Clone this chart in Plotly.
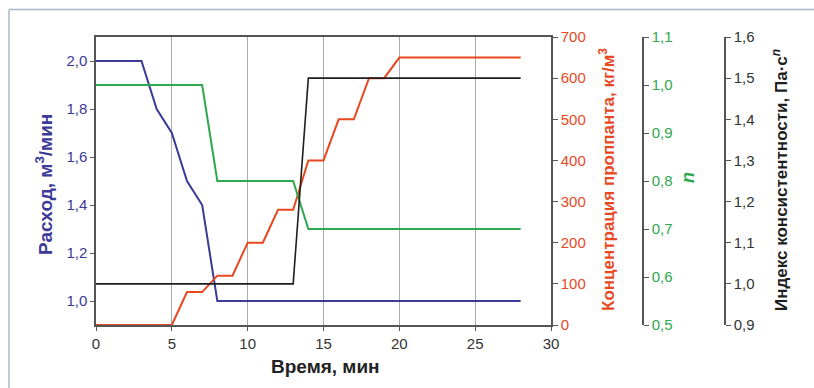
import plotly.graph_objects as go

# --- data ---
time_rate = [0, 3, 4, 5, 6, 7, 8, 28]
rate = [2.0, 2.0, 1.8, 1.7, 1.5, 1.4, 1.0, 1.0]

time_conc = [0, 5, 6, 7, 8, 9, 10, 11, 12, 13, 14, 15, 16, 17, 18, 19, 20, 28]
conc = [0, 0, 80, 80, 120, 120, 200, 200, 280, 280, 400, 400, 500, 500, 600, 600, 650, 650]

time_n = [0, 7, 8, 13, 14, 28]
n_vals = [1.0, 1.0, 0.8, 0.8, 0.7, 0.7]

time_k = [0, 13, 14, 28]
k_vals = [1.0, 1.0, 1.5, 1.5]

x_ticks = [0, 5, 10, 15, 20, 25, 30]

BLUE = "#3b3a96"
RED = "#e8481f"
GREEN = "#2ea84f"
BLACK = "#1e1e1e"
AX = "#555555"
GRID = "#ababab"
FONT = "Liberation Sans Narrow, Arial Narrow, Liberation Sans, Arial"
TFONT = "Liberation Sans, Arial"

W, H = 814, 388
x0, x1 = 96 / W, 551 / W
y0, y1 = 1 - 325 / H, 1 - 37 / H

fig = go.Figure()
fig.add_trace(go.Scatter(x=time_rate, y=rate, mode="lines", line=dict(color=BLUE, width=2), yaxis="y"))
fig.add_trace(go.Scatter(x=time_conc, y=conc, mode="lines", line=dict(color=RED, width=2), yaxis="y2"))
fig.add_trace(go.Scatter(x=time_n, y=n_vals, mode="lines", line=dict(color=GREEN, width=2), yaxis="y3"))
fig.add_trace(go.Scatter(x=time_k, y=k_vals, mode="lines", line=dict(color=BLACK, width=1.6), yaxis="y4"))

fig.update_layout(
    width=W, height=H,
    margin=dict(l=0, r=0, t=0, b=0, autoexpand=False),
    paper_bgcolor="white", plot_bgcolor="white",
    showlegend=False,
    separators=", ",
    xaxis=dict(
        domain=[x0, x1], range=[0, 30], tickvals=x_ticks,
        showgrid=True, gridcolor=GRID, gridwidth=1.4,
        showline=True, linecolor=AX, linewidth=1.5, mirror=True,
        ticks="outside", ticklen=4, tickcolor=AX,
        tickfont=dict(family=FONT, size=15, color="#333333"),
        zeroline=False, fixedrange=True, automargin=False,
    ),
    yaxis=dict(
        domain=[y0, y1], range=[0.9, 2.1], tickvals=[1.0, 1.2, 1.4, 1.6, 1.8, 2.0],
        tickformat=".1f", showgrid=False, zeroline=False,
        showline=True, linecolor=AX, linewidth=1.5,
        ticks="outside", ticklen=4, tickcolor=AX,
        tickfont=dict(family=FONT, size=15, color=BLUE), automargin=False,
    ),
    # hidden helper axis for horizontal grid lines
    yaxis5=dict(
        overlaying="y", range=[0.9, 2.1], tick0=1.0, dtick=0.25,
        showgrid=True, gridcolor=GRID, gridwidth=1.4,
        showticklabels=False, ticks="", zeroline=False, showline=False, automargin=False,
    ),
    yaxis2=dict(
        overlaying="y", side="right", anchor="x", range=[0, 700], dtick=100,
        showgrid=False, zeroline=False,
        showline=True, linecolor=AX, linewidth=1.5,
        ticks="outside", ticklen=5, tickcolor=AX,
        tickfont=dict(family=FONT, size=15, color=RED), automargin=False,
    ),
    yaxis3=dict(
        overlaying="y", side="right", anchor="free", position=643 / W,
        range=[0.5, 1.1], dtick=0.1, tickformat=".1f",
        showgrid=False, zeroline=False,
        showline=True, linecolor=AX, linewidth=1.5,
        ticks="outside", ticklen=5, tickcolor=AX,
        tickfont=dict(family=FONT, size=15, color=GREEN), automargin=False,
    ),
    yaxis4=dict(
        overlaying="y", side="right", anchor="free", position=725 / W,
        range=[0.9, 1.6], dtick=0.1, tickformat=".1f",
        showgrid=False, zeroline=False,
        showline=True, linecolor=AX, linewidth=1.5,
        ticks="outside", ticklen=5, tickcolor=AX,
        tickfont=dict(family=FONT, size=15, color="#333333"), automargin=False,
    ),
)

ann = dict(xref="paper", yref="paper", showarrow=False, textangle=-90,
           xanchor="center", yanchor="middle")
fig.add_annotation(x=44 / W, y=1 - 185 / H, text="<b>Расход, м<sup>3</sup>/мин</b>",
                   font=dict(family=TFONT, size=19, color=BLUE), **ann)
fig.add_annotation(x=607 / W, y=1 - 180 / H, text="<b>Концентрация проппанта, кг/м<sup>3</sup></b>",
                   font=dict(family=TFONT, size=17, color=RED), **ann)
fig.add_annotation(x=688 / W, y=1 - 178 / H, text="<b><i>n</i></b>",
                   font=dict(family=TFONT, size=18, color=GREEN), **ann)
fig.add_annotation(x=780 / W, y=1 - 180 / H, text="<b>Индекс консистентности, Па·с<sup><i>n</i></sup></b>",
                   font=dict(family=TFONT, size=17, color=BLACK), **ann)
fig.add_annotation(x=325 / W, y=1 - 366 / H, text="<b>Время, мин</b>",
                   font=dict(family=TFONT, size=19, color="#222222"),
                   xref="paper", yref="paper", showarrow=False, xanchor="center", yanchor="middle")

# light frame (top and left edges)
fig.add_shape(type="line", xref="paper", yref="paper", x0=9 / W, x1=1, y0=1 - 9.5 / H, y1=1 - 9.5 / H,
              line=dict(color="#a9b9cc", width=1.5))
fig.add_shape(type="line", xref="paper", yref="paper", x0=9 / W, x1=9 / W, y0=0, y1=1 - 9.5 / H,
              line=dict(color="#a9b9cc", width=1.5))

fig.write_html("out.html", config={"displayModeBar": False},
               post_script="document.body.style.margin='0';document.body.style.overflow='hidden';")
